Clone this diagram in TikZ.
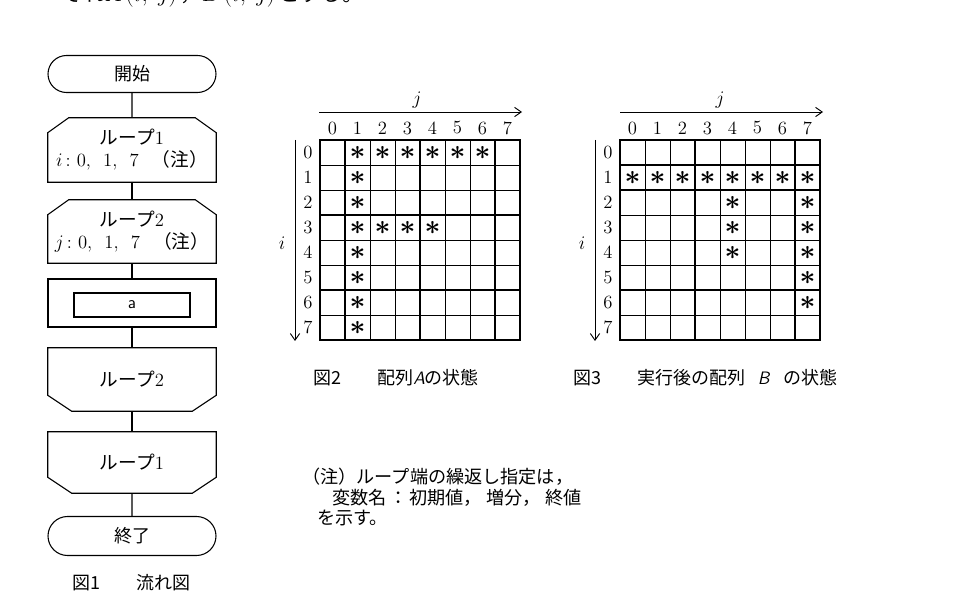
\documentclass[tikz,border=0pt]{standalone}
\usepackage{fontspec}
\newfontfamily\jp{Noto Sans CJK JP}
\usetikzlibrary{shapes.misc,arrows.meta,calc}
\begin{document}
\begin{tikzpicture}[x=0.75pt,y=-0.75pt,
  flow/.style={line width=0.8pt},
  term/.style={draw, flow, rounded rectangle, minimum width=126pt, inner sep=0pt, font=\fontsize{13.5}{16}\jp},
  fbox/.style={minimum width=126pt, inner sep=0pt, align=center, font=\fontsize{14}{16.5}\selectfont},
  gthin/.style={line width=0.6pt},
  gthick/.style={line width=1pt},
  num/.style={inner sep=0pt, font=\fontsize{14}{14}\selectfont},
  astk/.style={inner sep=0pt, font=\fontsize{20}{20}\selectfont\boldmath},
  axisarr/.style={line width=0.7pt, -{Straight Barb[length=5pt,width=7pt]}},
  captxt/.style={anchor=west, inner sep=0pt, font=\fontsize{13.5}{16}\jp},
  notetxt/.style={anchor=west, inner sep=0pt, font=\fontsize{13.6}{16}\jp}]
\useasboundingbox (0,0) rectangle (974,605);
\clip (0,0) rectangle (974,605);

% cut-off text at top
\node[anchor=west, inner sep=0pt, font=\fontsize{16}{16}\selectfont] (top) at (62,-4)
  {{\jp ぞれ}$A\,(i,\ j)$\,{\jp ，}$B\,(i,\ j)$\,{\jp とする。}};

% ---------- flowchart ----------
\node[term, minimum height=27.75pt] (S) at (132,74) {開始};

\node[fbox, minimum height=48pt] (L1) at (132,150)
  {{\jp ループ}1\\$i$\,:\ 0,\ \ 1,\ \ 7\hspace{0.7em}{\jp （注）}};
\draw[flow] (L1.south west) -- ($(L1.north west)+(0,15)$) -- ($(L1.north west)+(21,0)$)
  -- ($(L1.north east)+(-21,0)$) -- ($(L1.north east)+(0,15)$) -- (L1.south east) -- cycle;

\node[fbox, minimum height=47.25pt] (L2) at (132,231.5)
  {{\jp ループ}2\\$j$\,:\ 0,\ \ 1,\ \ 7\hspace{0.7em}{\jp （注）}};
\draw[flow] (L2.south west) -- ($(L2.north west)+(0,15)$) -- ($(L2.north west)+(21,0)$)
  -- ($(L2.north east)+(-21,0)$) -- ($(L2.north east)+(0,15)$) -- (L2.south east) -- cycle;

\node[draw, flow, minimum width=126pt, minimum height=36pt, inner sep=0pt] (P) at (132,303) {};
\node[draw, line width=1pt, minimum width=87pt, minimum height=18pt, inner sep=0pt,
  font=\fontsize{13}{13}\sffamily] (Pa) at (132,305) {a};

\node[fbox, minimum height=47.25pt] (E2) at (132,379.5) {{\jp ループ}2};
\draw[flow] (E2.north west) -- (E2.north east) -- ($(E2.south east)+(0,-16)$) -- ($(E2.south east)+(-24,0)$)
  -- ($(E2.south west)+(24,0)$) -- ($(E2.south west)+(0,-16)$) -- cycle;

\node[fbox, minimum height=45.75pt] (E1) at (132,462.5) {{\jp ループ}1};
\draw[flow] (E1.north west) -- (E1.north east) -- ($(E1.south east)+(0,-16)$) -- ($(E1.south east)+(-24,0)$)
  -- ($(E1.south west)+(24,0)$) -- ($(E1.south west)+(0,-16)$) -- cycle;

\node[term, minimum height=29.25pt] (T) at (132,536) {終了};

\draw[flow] (S) -- (L1);
\draw[flow] (L1) -- (L2);
\draw[flow] (L2) -- (P);
\draw[flow] (P) -- (E2);
\draw[flow] (E2) -- (E1);
\draw[flow] (E1) -- (T);

\node[captxt] (cap1) at (72,583) {図1\hspace{2em}流れ図};

% ---------- array A ----------
\foreach \k in {0,...,8} {
  \draw[gthin] (320+25*\k,140) -- (320+25*\k,340);
  \draw[gthin] (320,140+25*\k) -- (520,140+25*\k);
}
\foreach \k in {1,4,7} \draw[gthick] (320+25*\k,140) -- (320+25*\k,340);
\foreach \k in {3,6} \draw[gthick] (320,140+25*\k) -- (520,140+25*\k);
\draw[gthick] (320,140) rectangle (520,340);
\foreach \k in {0,...,7} {
  \node[num] (Ac\k) at (332.5+25*\k,128) {\k};
  \node[num] (Ar\k) at (308,152.5+25*\k) {\k};
}
\foreach \r/\c in {0/1,0/2,0/3,0/4,0/5,0/6,1/1,2/1,3/1,3/2,3/3,3/4,4/1,5/1,6/1,7/1}
  \node[astk] (Aa\r\c) at (332.5+25*\c,153+25*\r) {$\ast$};
\coordinate (Aj0) at (319,112);
\coordinate (Aj1) at (522,112);
\draw[axisarr] (Aj0) -- (Aj1);
\node[num] (Ajl) at (417,100) {$j$};
\coordinate (Ai0) at (295,140);
\coordinate (Ai1) at (295,341);
\draw[axisarr] (Ai0) -- (Ai1);
\node[num] (Ail) at (282,243) {$i$};

% ---------- array B ----------
\foreach \k in {0,...,8} {
  \draw[gthin] (620+25*\k,140) -- (620+25*\k,340);
  \draw[gthin] (620,140+25*\k) -- (820,140+25*\k);
}
\foreach \k in {3,7} \draw[gthick] (620+25*\k,140) -- (620+25*\k,340);
\foreach \k in {1,2,6} \draw[gthick] (620,140+25*\k) -- (820,140+25*\k);
\draw[gthick] (620,140) rectangle (820,340);
\foreach \k in {0,...,7} {
  \node[num] (Bc\k) at (632.5+25*\k,128) {\k};
  \node[num] (Br\k) at (608,152.5+25*\k) {\k};
}
\foreach \r/\c in {1/0,1/1,1/2,1/3,1/4,1/5,1/6,1/7,2/4,3/4,4/4,2/7,3/7,4/7,5/7,6/7}
  \node[astk] (Bb\r\c) at (632.5+25*\c,153+25*\r) {$\ast$};
\coordinate (Bj0) at (620,112);
\coordinate (Bj1) at (823,112);
\draw[axisarr] (Bj0) -- (Bj1);
\node[num] (Bjl) at (720,100) {$j$};
\coordinate (Bi0) at (595,140);
\coordinate (Bi1) at (595,341);
\draw[axisarr] (Bi0) -- (Bi1);
\node[num] (Bil) at (582,243) {$i$};

% ---------- captions ----------
\node[captxt] (cap2) at (313,378) {図2\hspace{2em}配列\textsf{\itshape A}の状態};
\node[captxt] (cap3) at (573,378) {図3\hspace{2em}実行後の配列\hspace{0.7em}\textsf{\itshape B}\hspace{0.7em}の状態};

% ---------- note ----------
\node[notetxt] (n1) at (302,477) {（注）ループ端の繰返し指定は，};
\node[notetxt] (n2) at (332,498) {変数名\hspace{0.15em}：\hspace{0.1em}初期値，\hspace{0.25em}増分，\hspace{0.25em}終値};
\node[notetxt] (n3) at (317,518) {を示す。};
\end{tikzpicture}
\end{document}
